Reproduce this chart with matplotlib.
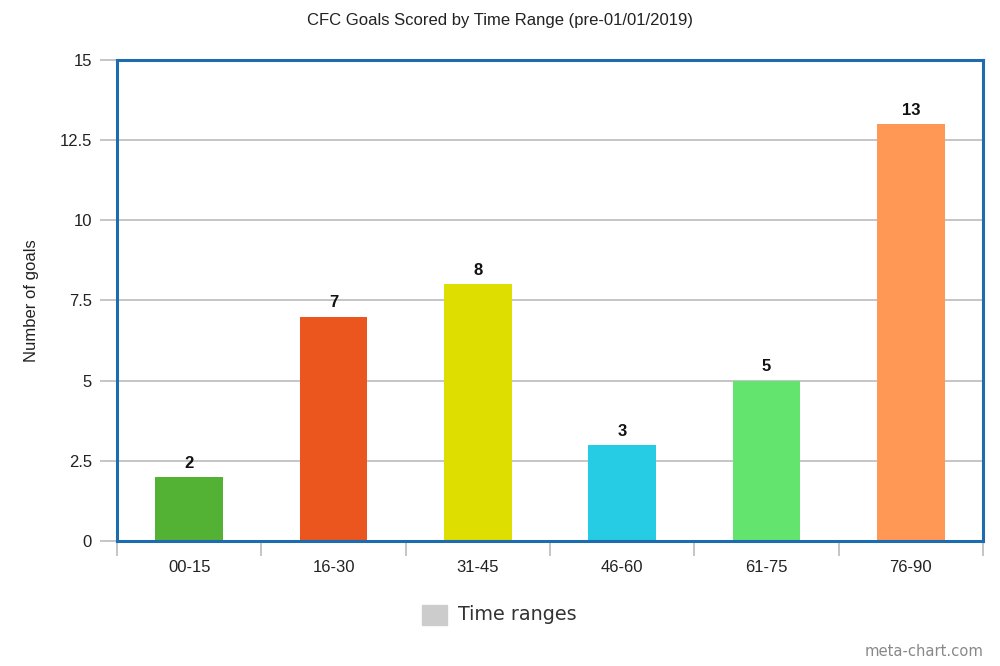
import matplotlib
matplotlib.use("Agg")
import matplotlib.pyplot as plt
import numpy as np

categories = ["00-15", "16-30", "31-45", "46-60", "61-75", "76-90"]
goals = [2, 7, 8, 3, 5, 13]
colors = ["#53B234", "#EA561E", "#DEDE00", "#25CCE3", "#63E46F", "#FF9755"]
yticks = [0, 2.5, 5, 7.5, 10, 12.5, 15]
ytick_labels = ["0", "2.5", "5", "7.5", "10", "12.5", "15"]

plt.rcParams['font.family'] = ['Liberation Sans', 'DejaVu Sans']

fig = plt.figure(figsize=(10, 6.66), dpi=100)
ax = fig.add_axes([0.117, 0.1877, 0.866, 0.7222])

x = np.arange(len(categories))
ax.bar(x, goals, width=0.47, color=colors, zorder=3)
for xi, g in zip(x, goals):
    ax.annotate(str(g), (xi, g), xytext=(0, 4.5), textcoords="offset points",
                ha="center", va="bottom", fontsize=12, fontweight="bold", color="#111111")

ax.set_xlim(-0.5, len(categories) - 0.5)
ax.set_ylim(0, 15)
ax.set_yticks(yticks)
ax.set_yticklabels(ytick_labels, fontsize=12, color="#222222")
ax.yaxis.grid(True, color="#BBBBBB", linewidth=1.2, zorder=0)
ax.tick_params(axis="y", length=12, width=1.2, color="#BBBBBB", pad=6)

ax.set_xticks(x)
ax.set_xticklabels(categories, fontsize=12, color="#222222")
ax.tick_params(axis="x", which="major", length=0, pad=14)
ax.set_xticks(np.arange(-0.5, len(categories)), minor=True)
ax.tick_params(axis="x", which="minor", length=11, width=1.2, color="#BBBBBB")

for s in ax.spines.values():
    s.set_color("#1E6CB0")
    s.set_linewidth(2.2)
    s.set_zorder(5)

ax.set_ylabel("Number of goals", fontsize=12, color="#222222", labelpad=15)
fig.text(0.5, 1 - 20 / 666, "CFC Goals Scored by Time Range (pre-01/01/2019)",
         ha="center", va="center", fontsize=12, color="#222222")

# legend
fig.patches.append(plt.Rectangle((0.422, 1 - 625 / 666), 0.025, 20 / 666,
                                 transform=fig.transFigure, color="#CCCCCC"))
fig.text(0.458, 1 - 615 / 666, "Time ranges", ha="left", va="center",
         fontsize=13.8, color="#333333", family="DejaVu Sans")
fig.text(0.983, 1 - 652 / 666, "meta-chart.com", ha="right", va="center",
         fontsize=10.6, color="#888888", family="DejaVu Sans")

fig.savefig("out.png", dpi=100)
